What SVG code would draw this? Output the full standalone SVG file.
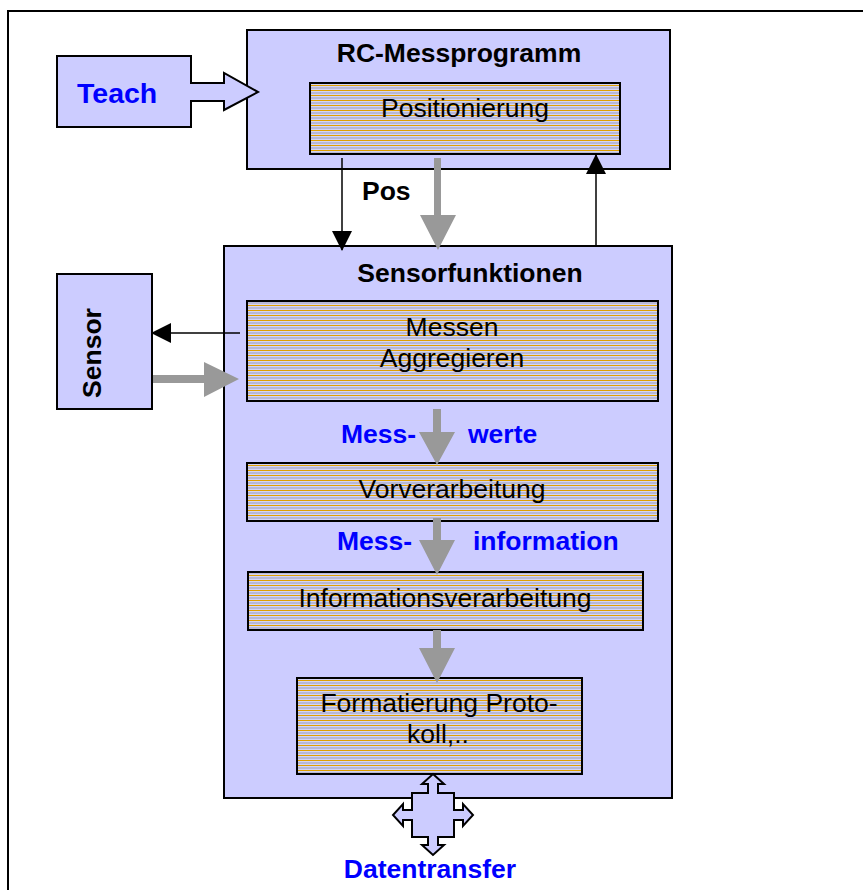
<svg xmlns="http://www.w3.org/2000/svg" width="863" height="890" viewBox="0 0 863 890">
<defs>
<pattern id="stripes" patternUnits="userSpaceOnUse" width="8" height="5">
<rect x="0" y="0" width="8" height="5" fill="#D4D4F4"/>
<rect x="0" y="0" width="8" height="1" fill="#E0A000"/>
<rect x="0" y="2.5" width="8" height="1" fill="#9C9CB4"/>
</pattern>
<marker id="ah" markerWidth="20" markerHeight="20" refX="19" refY="10" orient="auto" markerUnits="userSpaceOnUse" viewBox="0 0 20 20">
<path d="M0,0 L20,10 L0,20 Z" fill="#000"/>
</marker>
</defs>
<style>
.box{fill:#CCCCFF;stroke:#000;stroke-width:2}
.sbox{fill:url(#stripes);stroke:#000;stroke-width:2}
.bt{font-family:"Liberation Sans",Arial,sans-serif;font-weight:bold;font-size:26.5px;fill:#000}
.bl{font-family:"Liberation Sans",Arial,sans-serif;font-weight:bold;font-size:26.5px;fill:#0000FF}
.rt{font-family:"Liberation Sans",Arial,sans-serif;font-size:26.5px;fill:#000}
.gray{fill:#999999}
.line{stroke:#000;stroke-width:1.5;fill:none}
</style>
<rect x="8" y="11" width="900" height="920" fill="#FFFFFF" stroke="#000" stroke-width="2"/>

<g id="rc-messprogramm">
<rect class="box" x="247" y="30" width="423" height="139"/>
<text class="bt" x="459" y="62" text-anchor="middle">RC-Messprogramm</text>
</g>
<g id="positionierung">
<rect class="sbox" x="310" y="83" width="310" height="71"/>
<text class="rt" x="465" y="117" text-anchor="middle">Positionierung</text>
</g>
<g id="teach">
<path class="box" d="M57,56 H191 V83 H224 V73 L258,92 L224,110 V101 H191 V127 H57 Z"/>
<text class="bl" x="77" y="103" style="font-size:28.5px">Teach</text>
</g>
<g id="sensorfunktionen">
<rect class="box" x="224" y="246" width="448" height="552"/>
<text class="bt" x="470" y="282" text-anchor="middle">Sensorfunktionen</text>
</g>
<g id="sensor">
<rect class="box" x="57" y="274" width="95" height="135"/>
<text class="bt" transform="translate(101,353) rotate(-90)" text-anchor="middle">Sensor</text>
</g>
<g id="messen">
<rect class="sbox" x="247" y="301" width="411" height="100"/>
<text class="rt" x="452" y="336" text-anchor="middle">Messen</text>
<text class="rt" x="452" y="367" text-anchor="middle">Aggregieren</text>
</g>
<g id="vorverarbeitung">
<rect class="sbox" x="247" y="463" width="411" height="58"/>
<text class="rt" x="452" y="498" text-anchor="middle">Vorverarbeitung</text>
</g>
<g id="informationsverarbeitung">
<rect class="sbox" x="248" y="572" width="395" height="58"/>
<text class="rt" x="445" y="607" text-anchor="middle">Informationsverarbeitung</text>
</g>
<g id="formatierung">
<rect class="sbox" x="297" y="678" width="285" height="96"/>
<text class="rt" x="439" y="712" text-anchor="middle">Formatierung Proto-</text>
<text class="rt" x="438" y="743" text-anchor="middle">koll,..</text>
</g>
<g id="datentransfer">
<path class="box" d="M433,774 L444,784 L438,784 L438,793 L454,793 L454,810 L463,810 L463,804 L473,815 L463,826 L463,820 L454,820 L454,837 L438,837 L438,845 L444,845 L433,855 L422,845 L428,845 L428,837 L412,837 L412,820 L403,820 L403,826 L393,815 L403,804 L403,810 L412,810 L412,793 L428,793 L428,784 L422,784 Z"/>
<text class="bl" x="430" y="878" text-anchor="middle">Datentransfer</text>
</g>

<g id="connectors">
<line class="line" x1="342" y1="158" x2="342" y2="250" marker-end="url(#ah)"/>
<text class="bt" x="362" y="200">Pos</text>
<path class="gray" d="M434,158 H441 V215 H456 L438,250 L420,215 H434 Z"/>
<line class="line" x1="596" y1="246" x2="596" y2="155" marker-end="url(#ah)"/>
<line class="line" x1="240" y1="333" x2="152" y2="333" marker-end="url(#ah)"/>
<path class="gray" d="M153,375 H204 V362 L239,379 L204,397 V383 H153 Z"/>
<path class="gray" d="M433,409 H441 V432 H455 L437,465 L419,432 H433 Z"/>
<text class="bl" x="341" y="443">Mess-</text>
<text class="bl" x="468" y="443">werte</text>
<path class="gray" d="M433,518 H441 V540 H455 L437,575 L419,540 H433 Z"/>
<text class="bl" x="337" y="550">Mess-</text>
<text class="bl" x="473" y="550">information</text>
<path class="gray" d="M433,630 H441 V648 H455 L437,683 L419,648 H433 Z"/>
</g>
</svg>
